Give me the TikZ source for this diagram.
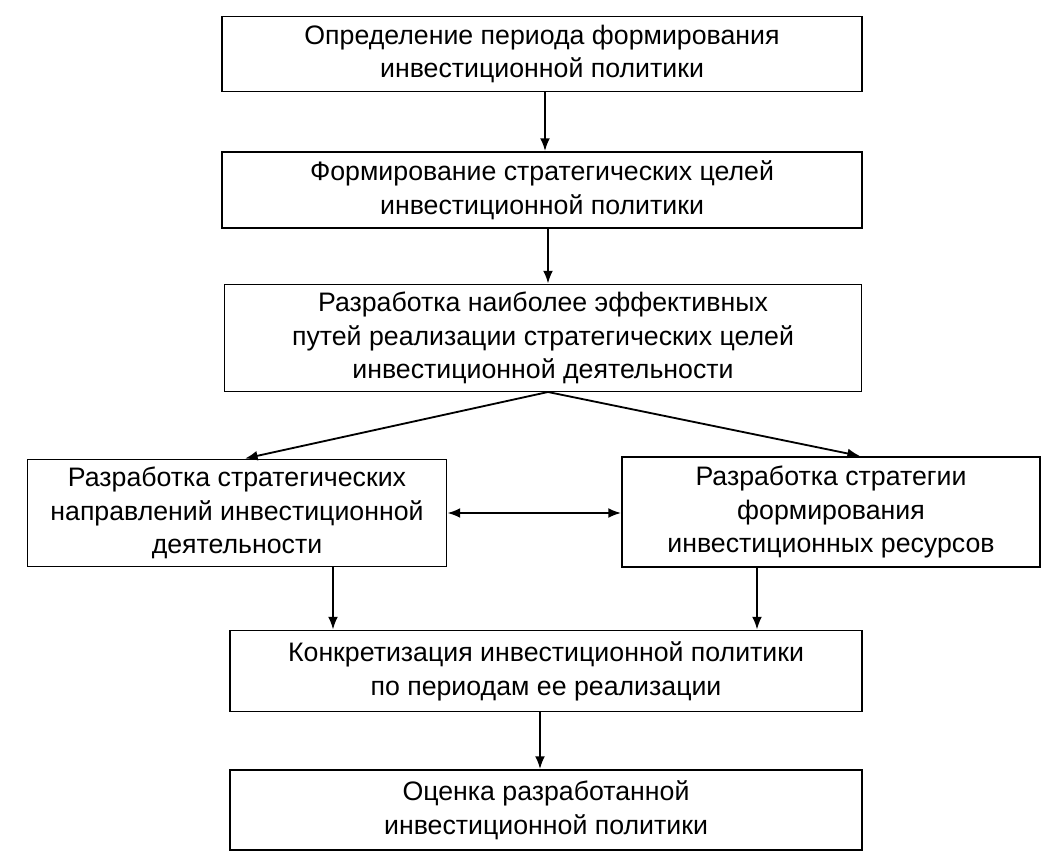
\documentclass[tikz,border=0pt]{standalone}
\usepackage{fontspec}
\setmainfont{Liberation Sans}
\usetikzlibrary{arrows.meta}
\tikzset{
    stage/.style={draw,line width=1.4pt,align=center,inner sep=0pt,
        font=\fontsize{19}{24}\selectfont},
    flow/.style={line width=1.3pt,-{Latex[length=9pt,width=7pt]}},
}
\begin{document}
\begin{tikzpicture}[x=0.025cm,y=-0.025cm]
    \useasboundingbox (0,0) rectangle (1057,861);
    % stages
    \node[stage,minimum width=640*0.025cm,minimum height=75*0.025cm] (period) at (542,54)
        {Определение периода формирования\\инвестиционной политики};
    \node[stage,minimum width=640*0.025cm,minimum height=76*0.025cm] (goals) at (542,190)
        {Формирование стратегических целей\\инвестиционной политики};
    \node[stage,minimum width=637*0.025cm,minimum height=107*0.025cm] (ways) at (543,338)
        {Разработка наиболее эффективных\\путей реализации стратегических целей\\инвестиционной деятельности};
    \node[stage,minimum width=419*0.025cm,minimum height=107*0.025cm] (dirs) at (237,513)
        {Разработка стратегических\\направлений инвестиционной\\деятельности};
    \node[stage,minimum width=418*0.025cm,minimum height=110*0.025cm] (res) at (831,512)
        {Разработка стратегии\\формирования\\инвестиционных ресурсов};
    \node[stage,minimum width=632*0.025cm,minimum height=81*0.025cm] (concr) at (546,671)
        {Конкретизация инвестиционной политики\\по периодам ее реализации};
    \node[stage,minimum width=632*0.025cm,minimum height=80*0.025cm] (eval) at (546,810)
        {Оценка разработанной\\инвестиционной политики};
    % connectors
    \draw[flow] (period.south -| 545,0) -- (goals.north -| 545,0);
    \draw[flow] (goals.south -| 548,0) -- (ways.north -| 548,0);
    \coordinate (fork) at (548,392);
    \draw[flow] (fork) -- (dirs.north -| 245,0);
    \draw[flow] (fork) -- (res.north -| 860,0);
    \draw[flow,{Latex[length=9pt,width=7pt]}-{Latex[length=9pt,width=7pt]}] (dirs.east) -- (res.west |- dirs.east);
    \draw[flow] (dirs.south -| 333,0) -- (concr.north -| 333,0);
    \draw[flow] (res.south -| 757,0) -- (concr.north -| 757,0);
    \draw[flow] (concr.south -| 540,0) -- (eval.north -| 540,0);
\end{tikzpicture}
\end{document}
